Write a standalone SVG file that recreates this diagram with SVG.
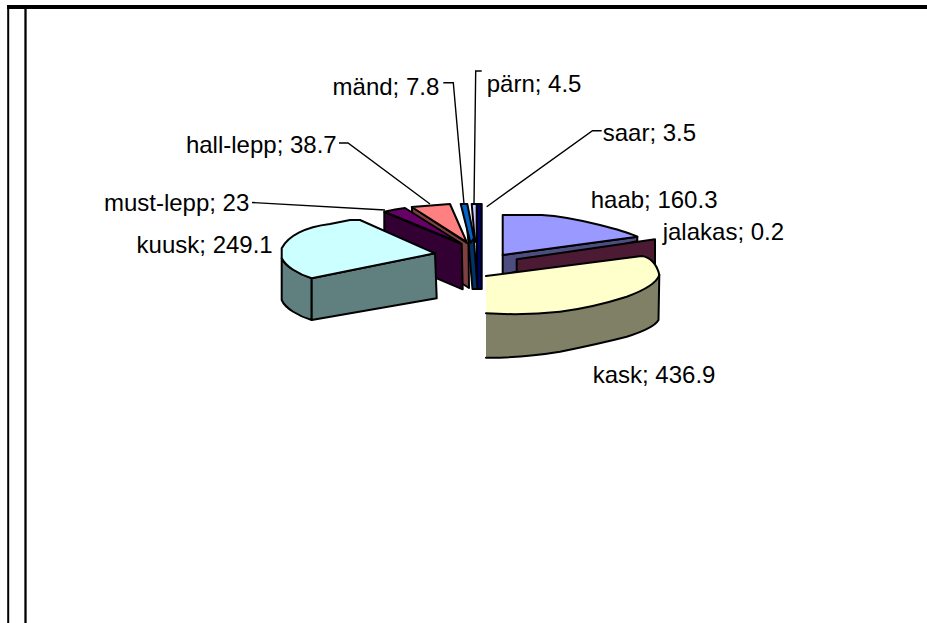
<svg xmlns="http://www.w3.org/2000/svg" width="927" height="623" viewBox="0 0 927 623">
<style>
.lbl{font-family:"Liberation Sans",Arial,sans-serif;font-size:24px;fill:#000}
.e{text-anchor:end}
.pie{stroke:#000;stroke-width:2;stroke-linejoin:round}
.nf{fill:none;stroke:#000;stroke-width:2;stroke-linejoin:round;stroke-linecap:round}
.ld{fill:none;stroke:#000;stroke-width:1.4}
</style>
<rect width="927" height="623" fill="#fff"/>
<g id="frame" fill="none" stroke="#000">
<line x1="7" y1="7" x2="927" y2="7" stroke-width="4"/>
<line x1="8.2" y1="5" x2="8.2" y2="623" stroke-width="2"/>
<line x1="25.5" y1="8" x2="25.5" y2="623" stroke-width="2.3"/>
</g>
<g id="saar">
<polygon class="pie" fill="#000066" points="476.7,204 481.7,204 481.7,289 477.2,289"/>
</g>
<g id="parn">
<polygon class="pie" fill="#CCCCFF" points="471.7,204 476.7,204 476.7,240 475,242"/>
</g>
<g id="mand">
<polygon class="pie" fill="#003366" points="467,226 474,240 477.5,289 472.5,289"/>
<polygon class="pie" fill="#0066CC" points="460.7,204 467.3,204 474,238 470.5,243"/>
</g>
<g id="hall-lepp">
<polygon class="pie" fill="#804040" points="412,207 468.5,244 469,288 412,251"/>
<polygon class="pie" fill="#FF8080" points="411.7,207 450,204 466.7,242"/>
</g>
<g id="must-lepp">
<polygon class="pie" fill="#330033" points="384.3,212 461.7,244 462.7,289.3 384.3,256"/>
<polygon class="pie" fill="#660066" points="384.3,211.7 395,209.5 405,208 460.5,243"/>
</g>
<g id="kuusk">
<path class="pie" fill="#608080" d="M281.7,258 C285,266 298,274 311.7,278.3 L311.7,320 C298,316 285,308 281.7,300 Z"/>
<path class="pie" fill="#608080" d="M311.7,278.3 L435,253.3 L436.7,298.3 L311.7,320 Z"/>
<path class="pie" fill="#CCFFFF" d="M281.7,248.3 C288,236 305,227 330,224 L350,220 L360,220 L435,253.3 L311.7,278.3 C298,274 285,266 281.7,258 Z"/>
</g>
<g id="haab">
<polygon class="pie" fill="#4D4D80" points="502.7,255 637.3,236.7 637.3,241 502.7,275"/>
<path class="pie" fill="#9999FF" d="M502.7,215 L541.7,215 C560,216 580,220 600,225 C615,229 628,232 637.3,236.7 L502.7,255 Z"/>
</g>
<g id="jalakas">
<polygon class="pie" fill="#4D1A33" points="516.7,259.3 655,239.3 655,264 516.7,285"/>
</g>
<g id="kask">
<path fill="#808066" d="M486,313.3 C515,315 540,314 560,311.7 C590,308 610,302 626.7,296.7 C645,290 657,282 659.3,275 L658.5,320 C655,326 645,331 626.7,336.7 C610,341 593,345 560,351.7 C540,355 515,358 486,357.7 Z"/>
<path fill="#FFFFCC" d="M486,276 L641.7,256 C650,257 657,264 659.3,275 C657,282 645,290 626.7,296.7 C610,302 590,308 560,311.7 C540,314 515,315 486,313.3 Z"/>
<path class="nf" d="M486,276 L641.7,256 C650,257 657,264 659.3,275 L658.5,320 C655,326 645,331 626.7,336.7 C610,341 593,345 560,351.7 C540,355 515,358 486,357.7"/>
<path class="nf" d="M659.3,275 C657,282 645,290 626.7,296.7 C610,302 590,308 560,311.7 C540,314 515,315 486,313.3"/>
</g>
<g id="connectors">
<polyline class="ld" points="443.3,82.7 453.3,82.7 464,204"/>
<polyline class="ld" points="481.7,71 475.7,71 474,204"/>
<polyline class="ld" points="601.7,130.7 592.5,130.7 486.7,206.7"/>
<polyline class="ld" points="339,143 348,143 430,204"/>
<polyline class="ld" points="252,202.5 385,210"/>
</g>
<g id="labels">
<text class="lbl e" x="439.3" y="95">mänd; 7.8</text>
<text class="lbl" x="486.7" y="92">pärn; 4.5</text>
<text class="lbl" x="602.7" y="141">saar; 3.5</text>
<text class="lbl e" x="336.7" y="152.7">hall-lepp; 38.7</text>
<text class="lbl e" x="249.3" y="210.7">must-lepp; 23</text>
<text class="lbl e" x="272.7" y="252.7">kuusk; 249.1</text>
<text class="lbl" x="590.7" y="207.7">haab; 160.3</text>
<text class="lbl" x="662.7" y="240">jalakas; 0.2</text>
<text class="lbl" x="592.7" y="382.7">kask; 436.9</text>
</g>
</svg>
